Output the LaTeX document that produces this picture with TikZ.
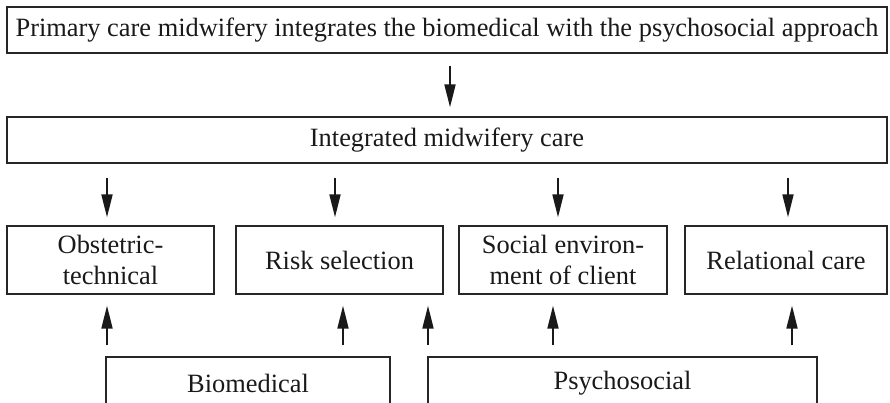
\documentclass[tikz,border=0pt]{standalone}
\usepackage{fontspec}
\setmainfont{Liberation Serif}
\usetikzlibrary{arrows.meta}
\begin{document}
\begin{tikzpicture}[x=1pt,y=-1pt,
  box/.style={draw=black!85, line width=1.3pt, rectangle, inner sep=0pt, align=center,
    font=\fontsize{26.4}{31}\selectfont, text=black!90},
  arr/.style={line width=1.8pt, draw=black!90, -{Triangle[length=23pt,width=11pt]}}]
\useasboundingbox (0,0) rectangle (890,402);
\clip (0,0) rectangle (890,402);
\node[box, minimum width=880, minimum height=46] (top) at (447,30) {Primary care midwifery integrates the biomedical with the psychosocial approach};
\node[box, minimum width=880, minimum height=46] (int) at (447,140) {Integrated midwifery care};
\node[box, minimum width=207, minimum height=68] (ob) at (110.5,260) {Obstetric-\\technical};
\node[box, minimum width=207, minimum height=68] (risk) at (339.5,260) {Risk selection};
\node[box, minimum width=208, minimum height=68] (soc) at (563,260) {Social environ-\\ment of client};
\node[box, minimum width=202, minimum height=68] (rel) at (786,260) {Relational care};
\node[box, minimum width=284, minimum height=52] (bio) at (248,383) {Biomedical};
\node[box, minimum width=389, minimum height=52] (psy) at (622.5,383) {Psychosocial};
% top arrow
\draw[arr, shorten <=12pt, shorten >=9pt] (top.south -| 450,0) -- (int.north -| 450,0);
% down arrows
\foreach \n/\xx in {ob/107, risk/335, soc/558, rel/788}
  \draw[arr, shorten <=14pt, shorten >=8pt] (int.south -| \xx,0) -- (\n.north -| \xx,0);
% up arrows
\draw[arr, shorten <=11pt, shorten >=11pt] (bio.north -| 107,0) -- (ob.south -| 107,0);
\draw[arr, shorten <=11pt, shorten >=11pt] (bio.north -| 343,0) -- (risk.south -| 343,0);
\draw[arr, shorten <=11pt, shorten >=11pt] (psy.north -| 428,0) -- (risk.south -| 428,0);
\draw[arr, shorten <=11pt, shorten >=11pt] (psy.north -| 553,0) -- (soc.south -| 553,0);
\draw[arr, shorten <=11pt, shorten >=11pt] (psy.north -| 792,0) -- (rel.south -| 792,0);
\end{tikzpicture}
\end{document}
